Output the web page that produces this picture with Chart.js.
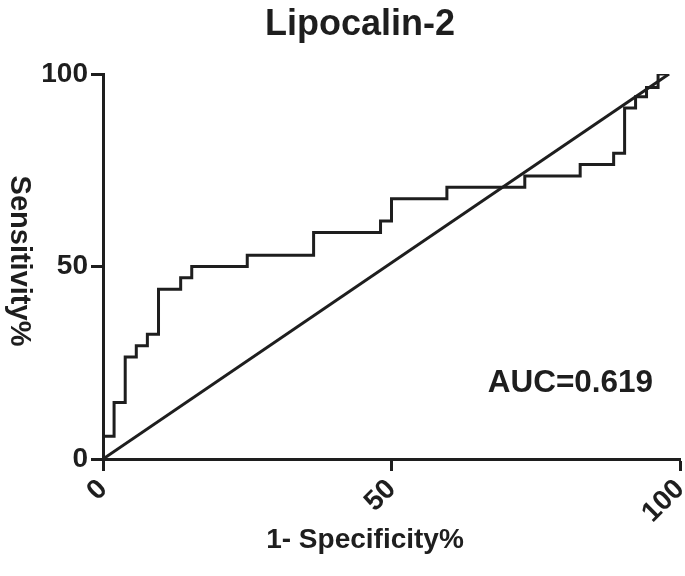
<!DOCTYPE html>
<html><head><meta charset="utf-8">
<script src="https://cdn.jsdelivr.net/npm/chart.js@4/dist/chart.umd.min.js"></script>
<style>html,body{margin:0;padding:0;background:#fff}#wrap{width:685px;height:576px}</style>
</head><body><div id="wrap"><canvas id="c" width="685" height="576"></canvas></div>
<script>
const titleText = 'Lipocalin-2';
const xAxisTitle = '1- Specificity%';
const yAxisTitle = 'Sensitivity%';
const aucLabel = 'AUC=0.619';
const xTicks = [0, 50, 100];
const yTicks = [0, 50, 100];
// ROC curve corner points (1 - specificity %, sensitivity %)
const fpr = [0, 0, 1.92, 3.85, 5.77, 7.69, 9.62, 13.46, 15.38, 25.0, 36.5, 48.1, 50.0, 59.6, 73.1, 82.7, 88.5, 90.4, 92.3, 94.2, 96.2, 98.1];
const tpr = [0, 5.88, 14.7, 26.5, 29.4, 32.4, 44.1, 47.1, 50.0, 52.9, 58.8, 61.8, 67.6, 70.6, 73.5, 76.5, 79.4, 91.2, 94.1, 96.5, 100, 100];
// reference (chance) line
const refFpr = [0, 98.1];
const refTpr = [0, 100];
// AUC label anchor in data units
const aucAt = [81, 17.5];

const INK = '#1e1e1e';
const FONT = 'Liberation Sans, Arial, sans-serif';

const textPlugin = {
  id: 'texts',
  afterDraw(chart) {
    const ctx = chart.ctx;
    const xs = chart.scales.x, ys = chart.scales.y;
    ctx.save();
    ctx.fillStyle = INK;
    ctx.textAlign = 'center';
    ctx.textBaseline = 'alphabetic';
    ctx.font = 'bold 36px ' + FONT;
    ctx.fillText(titleText, 360, 35);
    ctx.font = 'bold 28px ' + FONT;
    ctx.fillText(xAxisTitle, 365, 548);
    ctx.save();
    ctx.translate(19, 261);
    ctx.rotate(Math.PI / 2);
    ctx.textBaseline = 'middle';
    ctx.font = 'bold 29px ' + FONT;
    ctx.fillText(yAxisTitle, 0, 0);
    ctx.restore();
    ctx.font = 'bold 31.5px ' + FONT;
    ctx.fillText(aucLabel, xs.getPixelForValue(aucAt[0]), ys.getPixelForValue(aucAt[1]));
    ctx.restore();
  }
};

const axisCommon = {
  type: 'linear', min: 0, max: 100,
  grid: { display: true, drawOnChartArea: false, drawTicks: true, tickLength: 12, tickWidth: 3, tickColor: INK },
  border: { display: true, width: 3, color: INK },
};

new Chart(document.getElementById('c'), {
  type: 'line',
  data: {
    datasets: [
      {
        data: fpr.map((v, i) => ({ x: v, y: tpr[i] })),
        stepped: 'before', borderColor: INK, borderWidth: 3, pointRadius: 0, fill: false, tension: 0
      },
      {
        data: refFpr.map((v, i) => ({ x: v, y: refTpr[i] })),
        borderColor: INK, borderWidth: 3, pointRadius: 0, fill: false, tension: 0
      }
    ]
  },
  options: {
    responsive: false, animation: false, devicePixelRatio: 1,
    layout: { padding: { top: 74, right: 5, left: 0, bottom: 0 } },
    plugins: { legend: { display: false }, title: { display: false }, tooltip: { enabled: false } },
    scales: {
      x: Object.assign({}, axisCommon, {
        afterBuildTicks: s => { s.ticks = xTicks.map(v => ({ value: v })); },
        afterFit: s => { s.height = 117; s.paddingLeft = 0; s.paddingRight = 0; },
        ticks: { autoSkip: false, minRotation: 45, maxRotation: 45, padding: 2, color: INK, font: { family: FONT, weight: 'bold', size: 28 } }
      }),
      y: Object.assign({}, axisCommon, {
        afterBuildTicks: s => { s.ticks = yTicks.map(v => ({ value: v })); },
        afterFit: s => { s.width = 103; s.paddingTop = 0; s.paddingBottom = 0; },
        ticks: { padding: 3, color: INK, font: { family: FONT, weight: 'bold', size: 28 } }
      })
    }
  },
  plugins: [textPlugin]
});
</script>
</body></html>
